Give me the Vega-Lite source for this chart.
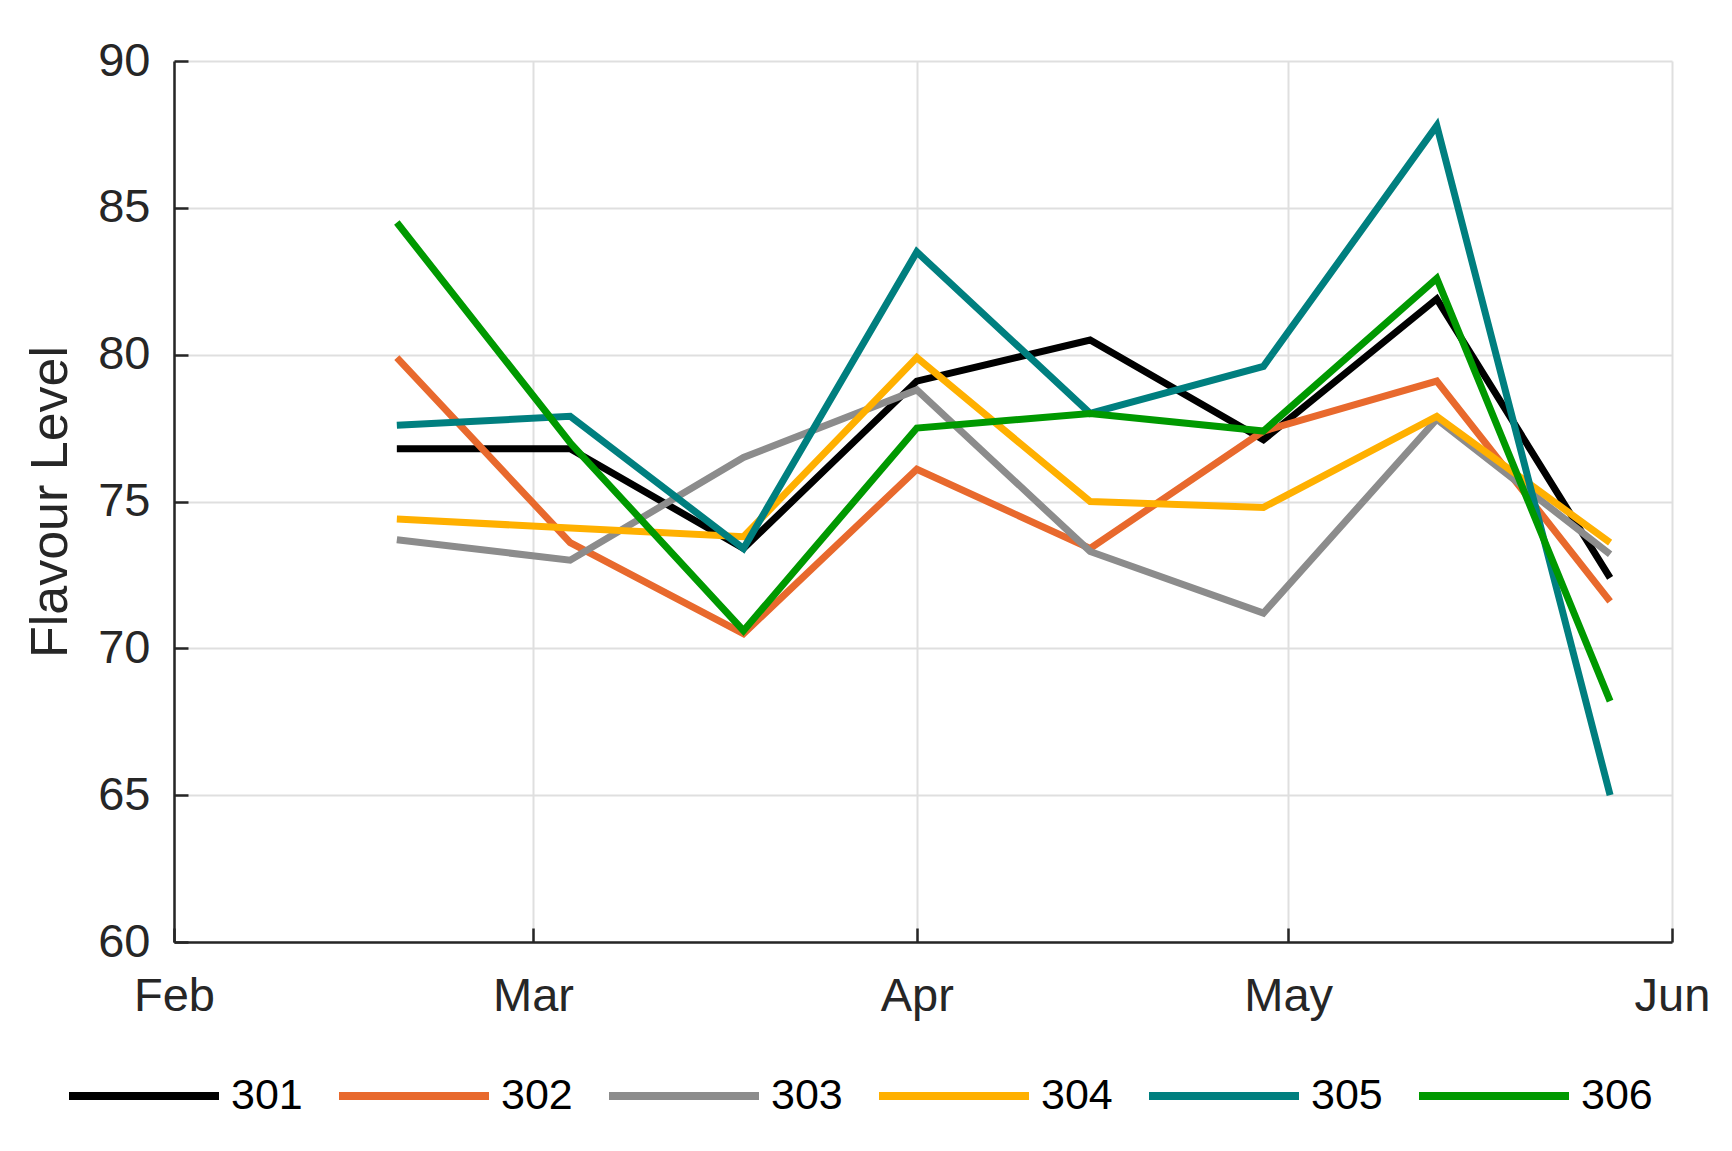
{
  "$schema": "https://vega.github.io/schema/vega-lite/v6.json",
  "width": 1498,
  "height": 881,
  "autosize": {"type": "none"},
  "padding": {"left": 174, "top": 61, "right": 60, "bottom": 209},
  "background": "white",
  "config": {
    "font": "Liberation Sans",
    "view": {"stroke": null},
    "axis": {
      "domainColor": "#262626",
      "domainWidth": 2.5,
      "tickColor": "#262626",
      "tickWidth": 2.5,
      "tickSize": -14,
      "gridColor": "#dfdfdf",
      "gridWidth": 2,
      "labelColor": "#262626",
      "labelFont": "Liberation Sans",
      "labelFontSize": 47,
      "titleFont": "Liberation Sans",
      "titleColor": "#262626",
      "titleFontWeight": "normal"
    }
  },
  "data": {
    "values": [
      {"series": "301", "date": "2024-02-19", "value": 76.8},
      {"series": "301", "date": "2024-03-04", "value": 76.8},
      {"series": "301", "date": "2024-03-18", "value": 73.4},
      {"series": "301", "date": "2024-04-01", "value": 79.1},
      {"series": "301", "date": "2024-04-15", "value": 80.5},
      {"series": "301", "date": "2024-04-29", "value": 77.1},
      {"series": "301", "date": "2024-05-13", "value": 81.9},
      {"series": "301", "date": "2024-05-27", "value": 72.4},
      {"series": "302", "date": "2024-02-19", "value": 79.9},
      {"series": "302", "date": "2024-03-04", "value": 73.6},
      {"series": "302", "date": "2024-03-18", "value": 70.5},
      {"series": "302", "date": "2024-04-01", "value": 76.1},
      {"series": "302", "date": "2024-04-15", "value": 73.4},
      {"series": "302", "date": "2024-04-29", "value": 77.4},
      {"series": "302", "date": "2024-05-13", "value": 79.1},
      {"series": "302", "date": "2024-05-27", "value": 71.6},
      {"series": "303", "date": "2024-02-19", "value": 73.7},
      {"series": "303", "date": "2024-03-04", "value": 73.0},
      {"series": "303", "date": "2024-03-18", "value": 76.5},
      {"series": "303", "date": "2024-04-01", "value": 78.8},
      {"series": "303", "date": "2024-04-15", "value": 73.3},
      {"series": "303", "date": "2024-04-29", "value": 71.2},
      {"series": "303", "date": "2024-05-13", "value": 77.8},
      {"series": "303", "date": "2024-05-27", "value": 73.2},
      {"series": "304", "date": "2024-02-19", "value": 74.4},
      {"series": "304", "date": "2024-03-04", "value": 74.1},
      {"series": "304", "date": "2024-03-18", "value": 73.8},
      {"series": "304", "date": "2024-04-01", "value": 79.9},
      {"series": "304", "date": "2024-04-15", "value": 75.0},
      {"series": "304", "date": "2024-04-29", "value": 74.8},
      {"series": "304", "date": "2024-05-13", "value": 77.9},
      {"series": "304", "date": "2024-05-27", "value": 73.6},
      {"series": "305", "date": "2024-02-19", "value": 77.6},
      {"series": "305", "date": "2024-03-04", "value": 77.9},
      {"series": "305", "date": "2024-03-18", "value": 73.4},
      {"series": "305", "date": "2024-04-01", "value": 83.5},
      {"series": "305", "date": "2024-04-15", "value": 78.0},
      {"series": "305", "date": "2024-04-29", "value": 79.6},
      {"series": "305", "date": "2024-05-13", "value": 87.8},
      {"series": "305", "date": "2024-05-27", "value": 65.0},
      {"series": "306", "date": "2024-02-19", "value": 84.5},
      {"series": "306", "date": "2024-03-04", "value": 77.0},
      {"series": "306", "date": "2024-03-18", "value": 70.6},
      {"series": "306", "date": "2024-04-01", "value": 77.5},
      {"series": "306", "date": "2024-04-15", "value": 78.0},
      {"series": "306", "date": "2024-04-29", "value": 77.4},
      {"series": "306", "date": "2024-05-13", "value": 82.6},
      {"series": "306", "date": "2024-05-27", "value": 68.2}
    ]
  },
  "mark": {"type": "line", "strokeWidth": 7, "strokeJoin": "miter", "strokeCap": "butt"},
  "encoding": {
    "x": {
      "field": "date",
      "type": "temporal",
      "scale": {"type": "utc", "domain": ["2024-02-01", "2024-06-01"]},
      "axis": {
        "title": null,
        "labelExpr": "utcFormat(datum.value, '%b')",
        "tickCount": {"interval": "month", "step": 1},
        "labelPadding": 45,
        "labelFlush": false,
        "labelOverlap": false
      }
    },
    "y": {
      "field": "value",
      "type": "quantitative",
      "scale": {"domain": [60, 90], "nice": false, "zero": false},
      "axis": {
        "title": "Flavour Level",
        "titleFontSize": 52,
        "values": [60, 65, 70, 75, 80, 85, 90],
        "labelPadding": 38,
        "titleX": -124,
        "titleY": 440.5,
        "titleAngle": -90,
        "titleAlign": "center",
        "titleBaseline": "middle"
      }
    },
    "color": {
      "field": "series",
      "type": "nominal",
      "scale": {
        "domain": ["301", "302", "303", "304", "305", "306"],
        "range": ["#000000", "#e8692d", "#8c8c8c", "#ffb000", "#007f7f", "#009900"]
      },
      "legend": {
        "title": null,
        "orient": "none",
        "direction": "horizontal",
        "legendX": -109,
        "legendY": 956,
        "symbolType": "stroke",
        "symbolSize": 22500,
        "symbolStrokeWidth": 8,
        "labelFontSize": 43,
        "labelFont": "Liberation Sans",
        "labelColor": "#000000",
        "labelOffset": 8,
        "columnPadding": 20
      }
    }
  }
}
